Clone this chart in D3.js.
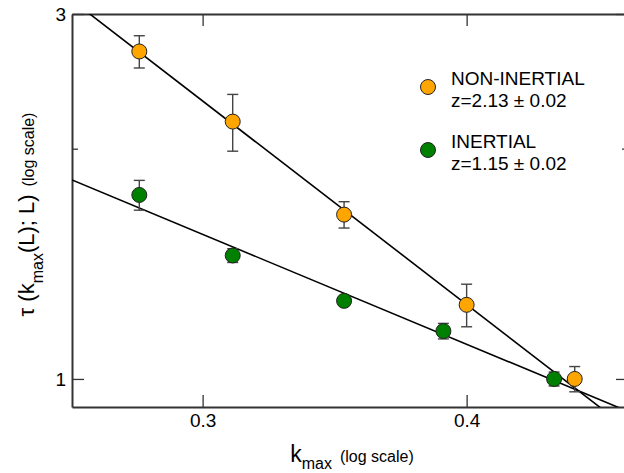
<!DOCTYPE html>
<html>
<head>
<meta charset="utf-8">
<script src="https://cdn.jsdelivr.net/npm/d3@7"></script>
<style>
  body { margin: 0; background: #fff; }
  text { font-family: "Liberation Sans", Arial, sans-serif; fill: #000; }
</style>
</head>
<body>
<svg id="drawing_region"></svg>
<script>
// non-inertial series (orange)
const kNonInertial   = [0.280, 0.310, 0.350, 0.400, 0.450];
const tauNonInertial = [2.68, 2.17, 1.64, 1.25, 1.00];
const errNonInertial = [0.13, 0.185, 0.065, 0.08, 0.038];

// inertial series (green)
const kInertial   = [0.280, 0.310, 0.350, 0.390, 0.440];
const tauInertial = [1.74, 1.45, 1.265, 1.155, 1.00];
const errInertial = [0.078, 0.03, 0.01, 0.027, 0.021];

// power-law fits tau = A * k^(-z)
const fitZ = [2.13, 1.15];
const fitA = [0.1777, 0.387];

const legendNames = ["NON-INERTIAL", "INERTIAL"];
const legendFits  = ["z=2.13 \u00b1 0.02", "z=1.15 \u00b1 0.02"];
const seriesColors = ["#ffa500", "#008000"];

const xTicks = [0.3, 0.4];
const yTicks = [1, 2, 3];
const xDomain = [0.2602, 0.4769];
const yDomain = [0.919, 3];

const config = {
    width: 624,
    height: 473,
    margin: {top: 14, right: -4, bottom: 66, left: 72}
};

const svg = d3.select('#drawing_region')
    .attr('width', config.width)
    .attr('height', config.height);

const inner_width = config.width - config.margin.left - config.margin.right;
const inner_height = config.height - config.margin.top - config.margin.bottom;

const chart = svg.append('g')
    .attr('transform', `translate(${config.margin.left}, ${config.margin.top})`);

const xscale = d3.scaleLog().domain(xDomain).range([0, inner_width]);
const yscale = d3.scaleLog().domain(yDomain).range([inner_height, 0]);

svg.append('defs').append('clipPath').attr('id', 'clip')
    .append('rect').attr('width', inner_width).attr('height', inner_height);

// axes (ticks point inward)
const axisColor = '#333';
function styleAxis(g) {
    g.select('.domain').attr('stroke', axisColor).attr('stroke-width', 2);
    g.selectAll('.tick line').attr('stroke', axisColor).attr('stroke-width', 1.3);
    g.selectAll('.tick text').attr('font-size', '19px')
        .attr('font-family', '"Liberation Sans", Arial, sans-serif').attr('fill', '#000');
}

chart.append('g')
    .attr('transform', `translate(0, ${inner_height})`)
    .call(d3.axisBottom(xscale).tickValues(xTicks).tickFormat(d3.format('.1f'))
        .tickSize(-12).tickSizeOuter(0).tickPadding(7))
    .call(styleAxis);

chart.append('g')
    .call(d3.axisTop(xscale).tickValues(xTicks).tickFormat('')
        .tickSize(-12).tickSizeOuter(0))
    .call(styleAxis);

const yleft = chart.append('g')
    .call(d3.axisLeft(yscale).tickValues(yTicks).tickFormat(d => d === 2 ? '' : d)
        .tickSize(-12).tickSizeOuter(0).tickPadding(6))
    .call(styleAxis);
yleft.selectAll('.tick').filter(d => d === 2).select('line').attr('x2', 6);

const yright = chart.append('g')
    .attr('transform', `translate(${inner_width}, 0)`)
    .call(d3.axisRight(yscale).tickValues(yTicks).tickFormat('')
        .tickSize(-12).tickSizeOuter(0))
    .call(styleAxis);
yright.selectAll('.tick').filter(d => d === 2).select('line').attr('x2', -6);

// fit lines
const plot = chart.append('g').attr('clip-path', 'url(#clip)');
fitZ.forEach((z, i) => {
    const pts = xDomain.map(k => [k, fitA[i] * Math.pow(k, -z)]);
    plot.append('path')
        .attr('d', d3.line().x(d => xscale(d[0])).y(d => yscale(d[1]))(pts))
        .attr('fill', 'none')
        .attr('stroke', '#000')
        .attr('stroke-width', 1.6);
});

// points with error bars
function drawSeries(ks, taus, errs, color) {
    const data = ks.map((k, i) => ({k: k, tau: taus[i], err: errs[i]}));
    const g = plot.append('g');
    const bars = g.selectAll('.err').data(data).enter().append('g')
        .attr('stroke', '#444').attr('stroke-width', 1.4);
    bars.append('line')
        .attr('x1', d => xscale(d.k)).attr('x2', d => xscale(d.k))
        .attr('y1', d => yscale(d.tau + d.err)).attr('y2', d => yscale(d.tau - d.err));
    bars.append('line')
        .attr('x1', d => xscale(d.k) - 5.5).attr('x2', d => xscale(d.k) + 5.5)
        .attr('y1', d => yscale(d.tau + d.err)).attr('y2', d => yscale(d.tau + d.err));
    bars.append('line')
        .attr('x1', d => xscale(d.k) - 5.5).attr('x2', d => xscale(d.k) + 5.5)
        .attr('y1', d => yscale(d.tau - d.err)).attr('y2', d => yscale(d.tau - d.err));
    g.selectAll('circle').data(data).enter().append('circle')
        .attr('cx', d => xscale(d.k))
        .attr('cy', d => yscale(d.tau))
        .attr('r', 7.5)
        .attr('fill', color)
        .attr('stroke', '#222')
        .attr('stroke-width', 1);
}
drawSeries(kNonInertial, tauNonInertial, errNonInertial, seriesColors[0]);
drawSeries(kInertial, tauInertial, errInertial, seriesColors[1]);

// legend
const legend = svg.append('g').attr('transform', 'translate(428, 87)');
legendNames.forEach((name, i) => {
    const row = legend.append('g').attr('transform', `translate(0, ${i * 63})`);
    row.append('circle').attr('r', 7.5).attr('fill', seriesColors[i])
        .attr('stroke', '#222').attr('stroke-width', 1);
    row.append('text').attr('x', 23).attr('y', -2).attr('font-size', '19px').text(name);
    row.append('text').attr('x', 23).attr('y', 19.5).attr('font-size', '19px').text(legendFits[i]);
});

// axis labels
const xlabel = svg.append('text')
    .attr('x', config.margin.left + inner_width / 2 + 2)
    .attr('y', 462)
    .attr('text-anchor', 'middle')
    .attr('font-size', '23px');
xlabel.append('tspan').text('k');
xlabel.append('tspan').attr('font-size', '16px').attr('dy', 7).text('max');
xlabel.append('tspan').attr('font-size', '16px').attr('dy', -7).text('\u2002(log scale)');

const ylabel = svg.append('text')
    .attr('transform', `translate(34, ${config.margin.top + inner_height / 2 + 4}) rotate(-90)`)
    .attr('text-anchor', 'middle')
    .attr('font-size', '22px');
ylabel.append('tspan').text('\u03c4 (k');
ylabel.append('tspan').attr('font-size', '16px').attr('dy', 9).text('max');
ylabel.append('tspan').attr('dy', -9).text('(L); L)');
ylabel.append('tspan').attr('font-size', '16px').text('\u2002(log scale)');
</script>
</body>
</html>
